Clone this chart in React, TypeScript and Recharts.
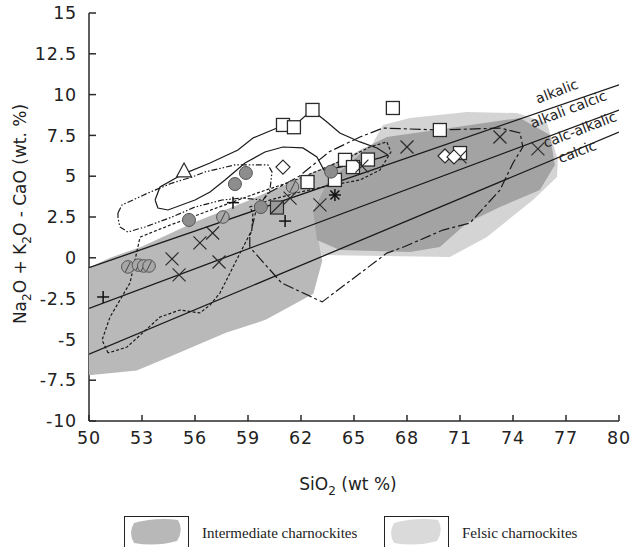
import React from 'react';
import { ScatterChart, Scatter, XAxis, YAxis } from 'recharts';

const xTicks = [50, 53, 56, 59, 62, 65, 68, 71, 74, 77, 80];
const yTicks = [-10, -7.5, -5, -2.5, 0, 2.5, 5, 7.5, 10, 12.5, 15];

// Frost et al. boundaries
const alkalicBoundary = [{ x: 50, y: -0.6 }, { x: 80, y: 10.6 }];
const alkaliCalcicBoundary = [{ x: 50, y: -3.1 }, { x: 80, y: 9.05 }];
const calcAlkalicBoundary = [{ x: 50, y: -5.9 }, { x: 80, y: 7.7 }];

const fieldLabels = [
  { x: 76.5, y: 10.15, name: 'alkalic' },
  { x: 77.15, y: 9.05, name: 'alkali calcic' },
  { x: 77.8, y: 7.8, name: 'calc-alkalic' },
  { x: 77.65, y: 6.45, name: 'calcic' },
];

// shaded fields
const felsicField = [
  { x: 63.07, y: 0.17 }, { x: 70.43, y: 0.05 }, { x: 72.52, y: 1.27 }, { x: 75.13, y: 3.54 },
  { x: 76.49, y: 4.95 }, { x: 76.54, y: 5.99 }, { x: 75.92, y: 8.26 }, { x: 74.22, y: 8.87 },
  { x: 71.39, y: 8.93 }, { x: 68.17, y: 8.57 }, { x: 66.64, y: 8.14 }, { x: 66.0, y: 6.9 },
  { x: 63.07, y: 3.54 }, { x: 62.9, y: 1.09 },
];
const intermediateBand = [
  { x: 50, y: -7.2 }, { x: 52.7, y: -6.9 }, { x: 54.5, y: -6.1 }, { x: 57.75, y: -4.6 },
  { x: 60.0, y: -3.8 }, { x: 62.7, y: -2.2 }, { x: 63.2, y: -0.2 }, { x: 63.0, y: 1.0 },
  { x: 62.7, y: 3.0 }, { x: 63.5, y: 4.6 }, { x: 65.7, y: 6.8 }, { x: 64.5, y: 6.1 },
  { x: 62, y: 4.9 }, { x: 59, y: 3.5 }, { x: 56, y: 2.2 }, { x: 53, y: 0.7 },
  { x: 51.2, y: 0.0 }, { x: 50, y: -0.6 },
];
const intermediateCore = [
  { x: 66.86, y: 7.4 }, { x: 70.43, y: 7.95 }, { x: 74.39, y: 8.57 }, { x: 76.09, y: 7.52 },
  { x: 76.37, y: 5.69 }, { x: 75.52, y: 4.15 }, { x: 73.26, y: 3.11 }, { x: 71.39, y: 2.13 },
  { x: 69.86, y: 0.66 }, { x: 68.17, y: 0.36 }, { x: 64.2, y: 0.48 }, { x: 62.9, y: 1.09 },
  { x: 62.68, y: 2.93 }, { x: 63.47, y: 4.58 }, { x: 65.73, y: 6.79 },
];

// outlined fields
const solidField = [
  { x: 53.74, y: 3.54 }, { x: 54.02, y: 4.34 }, { x: 55.32, y: 5.13 }, { x: 56.85, y: 5.81 },
  { x: 58.43, y: 6.61 }, { x: 59.28, y: 7.34 }, { x: 60.64, y: 7.95 }, { x: 61.6, y: 8.08 },
  { x: 62.62, y: 9.06 }, { x: 63.47, y: 8.32 }, { x: 64.2, y: 7.65 }, { x: 65.34, y: 7.1 },
  { x: 66.3, y: 6.73 }, { x: 66.92, y: 6.3 }, { x: 66.47, y: 6.12 }, { x: 65.34, y: 5.81 },
  { x: 64.2, y: 5.56 }, { x: 63.3, y: 5.38 }, { x: 62.9, y: 6.18 }, { x: 62.11, y: 6.73 },
  { x: 60.98, y: 6.79 }, { x: 59.96, y: 6.48 }, { x: 58.83, y: 5.81 }, { x: 57.7, y: 4.77 },
  { x: 56.85, y: 4.03 }, { x: 56.0, y: 3.54 }, { x: 54.47, y: 2.93 }, { x: 53.9, y: 3.05 },
  { x: 53.74, y: 3.54 },
];
const dashDotField = [
  { x: 51.64, y: 2.75 }, { x: 51.87, y: 3.24 }, { x: 52.6, y: 3.6 }, { x: 53.34, y: 3.97 },
  { x: 54.7, y: 4.58 }, { x: 55.83, y: 4.95 }, { x: 56.56, y: 5.26 }, { x: 58.26, y: 5.69 },
  { x: 60.13, y: 5.69 }, { x: 60.36, y: 5.26 }, { x: 60.24, y: 4.15 }, { x: 59.85, y: 3.54 },
  { x: 58.66, y: 3.66 }, { x: 57.53, y: 3.54 }, { x: 56.0, y: 3.11 }, { x: 54.7, y: 2.5 },
  { x: 53.17, y: 1.89 }, { x: 52.2, y: 1.58 }, { x: 51.75, y: 1.89 }, { x: 51.64, y: 2.44 },
  { x: 51.64, y: 2.75 },
];
const dottedField = [
  { x: 51.08, y: -5.83 }, { x: 50.74, y: -5.04 }, { x: 51.19, y: -3.63 }, { x: 52.32, y: -1.54 },
  { x: 52.89, y: 1.27 }, { x: 54.58, y: 2.0 }, { x: 56.28, y: 2.68 }, { x: 57.98, y: 3.36 },
  { x: 59.68, y: 4.03 }, { x: 61.38, y: 4.64 }, { x: 63.07, y: 5.38 }, { x: 64.77, y: 6.18 },
  { x: 65.9, y: 6.79 }, { x: 66.86, y: 7.1 }, { x: 67.09, y: 6.48 }, { x: 66.47, y: 5.38 },
  { x: 65.34, y: 4.77 }, { x: 63.81, y: 4.46 }, { x: 61.94, y: 4.03 }, { x: 60.24, y: 3.54 },
  { x: 59.1, y: 3.11 }, { x: 59.28, y: 2.75 }, { x: 59.22, y: 1.7 }, { x: 58.55, y: 0.29 },
  { x: 57.41, y: -2.16 }, { x: 56.85, y: -2.89 }, { x: 56.28, y: -3.38 }, { x: 55.15, y: -3.2 },
  { x: 54.02, y: -3.63 }, { x: 52.15, y: -5.47 }, { x: 51.08, y: -5.83 },
];
const longDashField = [
  { x: 59.1, y: 1.27 }, { x: 59.1, y: 0.66 }, { x: 60.9, y: -1.54 }, { x: 63.2, y: -2.7 },
  { x: 66.86, y: 0.29 }, { x: 67.8, y: 0.66 }, { x: 70.03, y: 1.7 }, { x: 71.56, y: 2.13 },
  { x: 73.26, y: 4.15 }, { x: 74.0, y: 5.81 }, { x: 74.56, y: 6.79 }, { x: 74.4, y: 7.65 },
  { x: 73.26, y: 7.95 }, { x: 69.86, y: 7.83 }, { x: 66.64, y: 7.95 }, { x: 65.34, y: 7.4 },
  { x: 63.6, y: 6.5 }, { x: 61.9, y: 5.0 }, { x: 60.2, y: 4.0 }, { x: 59.5, y: 3.1 },
  { x: 59.1, y: 1.27 },
];

// samples
const squares = [
  { x: 60.98, y: 8.14 }, { x: 61.6, y: 8.0 }, { x: 62.65, y: 9.06 }, { x: 67.2, y: 9.18 },
  { x: 69.86, y: 7.83 }, { x: 71.0, y: 6.42 }, { x: 64.49, y: 6.0 }, { x: 65.79, y: 6.02 },
  { x: 64.94, y: 5.56 }, { x: 62.37, y: 4.64 }, { x: 63.92, y: 4.77 },
];
const greyCircles = [
  { x: 58.88, y: 5.2 }, { x: 58.26, y: 4.52 }, { x: 59.73, y: 3.11 }, { x: 55.66, y: 2.32 },
  { x: 63.7, y: 5.28 },
];
const slashedCircles = [
  { x: 52.2, y: -0.56 }, { x: 52.8, y: -0.45 }, { x: 53.1, y: -0.5 }, { x: 53.4, y: -0.5 },
  { x: 57.58, y: 2.5 }, { x: 61.52, y: 4.34 },
];
const crosses = [
  { x: 54.7, y: -0.07 }, { x: 55.1, y: -1.05 }, { x: 56.28, y: 0.91 }, { x: 57.0, y: 1.52 },
  { x: 57.36, y: -0.26 }, { x: 63.07, y: 3.24 }, { x: 61.38, y: 3.66 }, { x: 65.45, y: 5.62 },
  { x: 68.0, y: 6.79 }, { x: 73.26, y: 7.4 }, { x: 75.41, y: 6.67 }, { x: 71.0, y: 6.18 },
];
const pluses = [{ x: 50.8, y: -2.4 }, { x: 58.15, y: 3.38 }, { x: 61.1, y: 2.25 }];
const diamonds = [{ x: 60.98, y: 5.56 }, { x: 70.15, y: 6.24 }, { x: 70.66, y: 6.18 }];
const triangles = [{ x: 55.38, y: 5.26 }];
const asterisks = [{ x: 63.92, y: 3.85 }];
const slashedSquares = [{ x: 60.64, y: 3.08 }];

const INK = '#2a2a2a';
const axisStyle = { stroke: '#2a2a2a', strokeWidth: 1.5 };
const tickFont = { fontFamily: 'DejaVu Sans', fontSize: 17.5, fill: '#222', letterSpacing: 0.8 };

const Empty = () => <g />;

const OpenSquare = ({ cx, cy }: any) => (
  <rect x={cx - 6.5} y={cy - 6.5} width={13} height={13} fill="#fff" stroke={INK} strokeWidth={1.3} />
);
const GreyCircle = ({ cx, cy }: any) => (
  <circle cx={cx} cy={cy} r={6.5} fill="#8d8d8d" stroke="#555" strokeWidth={1} />
);
const SlashedCircle = ({ cx, cy }: any) => (
  <g>
    <circle cx={cx} cy={cy} r={6.3} fill="#a8a8a8" stroke="#555" strokeWidth={1} />
    <line x1={cx - 2.5} y1={cy + 5} x2={cx + 2.5} y2={cy - 5} stroke="#444" strokeWidth={1} />
  </g>
);
const Cross = ({ cx, cy }: any) => (
  <g stroke={INK} strokeWidth={1.2}>
    <line x1={cx - 6.5} y1={cy - 6.5} x2={cx + 6.5} y2={cy + 6.5} />
    <line x1={cx - 6.5} y1={cy + 6.5} x2={cx + 6.5} y2={cy - 6.5} />
  </g>
);
const Plus = ({ cx, cy }: any) => (
  <g stroke="#111" strokeWidth={1.5}>
    <line x1={cx - 6} y1={cy} x2={cx + 6} y2={cy} />
    <line x1={cx} y1={cy - 6} x2={cx} y2={cy + 6} />
  </g>
);
const Diamond = ({ cx, cy }: any) => (
  <polygon points={`${cx},${cy - 7} ${cx + 7},${cy} ${cx},${cy + 7} ${cx - 7},${cy}`} fill="#fff" stroke={INK} strokeWidth={1.2} />
);
const Triangle = ({ cx, cy }: any) => (
  <polygon points={`${cx},${cy - 9} ${cx + 7.5},${cy + 5} ${cx - 7.5},${cy + 5}`} fill="#fff" stroke={INK} strokeWidth={1.2} />
);
const Asterisk = ({ cx, cy }: any) => (
  <g stroke="#111" strokeWidth={1.5}>
    <line x1={cx - 6} y1={cy} x2={cx + 6} y2={cy} />
    <line x1={cx} y1={cy - 6} x2={cx} y2={cy + 6} />
    <line x1={cx - 4.5} y1={cy - 4.5} x2={cx + 4.5} y2={cy + 4.5} />
    <line x1={cx - 4.5} y1={cy + 4.5} x2={cx + 4.5} y2={cy - 4.5} />
  </g>
);
const SlashedSquare = ({ cx, cy }: any) => (
  <g>
    <rect x={cx - 6.5} y={cy - 6.5} width={13} height={13} fill="#9a9a9a" stroke={INK} strokeWidth={1.2} />
    <line x1={cx - 6.5} y1={cy + 6.5} x2={cx + 6.5} y2={cy - 6.5} stroke={INK} strokeWidth={1.2} />
  </g>
);
const FieldLabel = ({ cx, cy, payload }: any) => (
  <text x={cx} y={cy} transform={`rotate(-21 ${cx} ${cy})`} textAnchor="middle" dominantBaseline="middle"
    fontFamily="DejaVu Sans" fontSize={14} fill="#222">{payload.name}</text>
);

const XTitle = () => (
  <text x={348} y={490} textAnchor="middle" fontFamily="DejaVu Sans" fontSize={17} fill="#222">
    SiO<tspan dy={5} fontSize={12}>2</tspan><tspan dy={-5}> (wt %)</tspan>
  </text>
);
const YTitle = () => (
  <text transform="translate(26,214) rotate(-90)" textAnchor="middle" fontFamily="DejaVu Sans" fontSize={17} fill="#222">
    Na<tspan dy={5} fontSize={12}>2</tspan><tspan dy={-5}>O + K</tspan><tspan dy={5} fontSize={12}>2</tspan>
    <tspan dy={-5}>O - CaO (wt. %)</tspan>
  </text>
);

const fill = (data: any[], color: string) => (
  <Scatter data={data} shape={Empty} line={{ fill: color, stroke: 'none' }} lineJointType="linearClosed"
    legendType="none" isAnimationActive={false} />
);
const outline = (data: any[], dash?: string, width = 1.2) => (
  <Scatter data={data} shape={Empty} line={{ stroke: '#1a1a1a', strokeWidth: width, strokeDasharray: dash, fill: 'none' }}
    legendType="none" isAnimationActive={false} />
);
const marks = (data: any[], shape: any) => (
  <Scatter data={data} shape={shape} legendType="none" isAnimationActive={false} />
);

function LegendStrip() {
  return (
    <svg width={633} height={547} style={{ position: 'absolute', left: 0, top: 0, pointerEvents: 'none' }}>
      <rect x={124.5} y={516.5} width={64} height={40} fill="#fff" stroke="#222" strokeWidth={1} />
      <path d="M134,523 Q156,517 178,520 Q184,530 177,541 Q156,547 134,543 Q128,533 134,523 Z" fill="#b8b8b8" />
      <text x={202} y={538} fontFamily="Liberation Serif" fontSize={15} fill="#222">Intermediate charnockites</text>
      <rect x={384.5} y={516.5} width={64} height={40} fill="#fff" stroke="#222" strokeWidth={1} />
      <path d="M394,523 Q416,517 438,520 Q444,530 437,541 Q416,547 394,543 Q388,533 394,523 Z" fill="#dadada" />
      <text x={462} y={538} fontFamily="Liberation Serif" fontSize={15} fill="#222">Felsic charnockites</text>
    </svg>
  );
}

export default function App() {
  return (
    <div style={{ position: 'absolute', left: 0, top: 0, width: 633, height: 547, background: '#fff' }}>
      <ScatterChart width={633} height={547} margin={{ top: 13, right: 14, bottom: 0, left: 0 }}>
        <XAxis type="number" dataKey="x" domain={[50, 80]} ticks={xTicks} interval={0} allowDataOverflow
          height={126} tickSize={-6} tickMargin={17} tick={tickFont} axisLine={axisStyle} tickLine={axisStyle}
          label={<XTitle />} />
        <XAxis xAxisId="top" orientation="top" type="number" domain={[50, 80]} ticks={xTicks} interval={0}
          height={0} tickSize={-6} tick={false} axisLine={axisStyle} tickLine={axisStyle} />
        <YAxis type="number" dataKey="y" domain={[-10, 15]} ticks={yTicks} interval={0} allowDataOverflow
          width={89} tickSize={-7} tickMargin={19} tick={tickFont} axisLine={axisStyle} tickLine={axisStyle}
          label={<YTitle />} />
        <YAxis yAxisId="right" orientation="right" type="number" domain={[-10, 15]} ticks={yTicks} interval={0}
          width={0} tickSize={-7} tick={false} axisLine={axisStyle} tickLine={axisStyle} />

        {fill(felsicField, '#d4d4d4')}
        {fill(intermediateBand, '#b9b9b9')}
        {fill(intermediateCore, '#a3a3a3')}

        {outline(alkalicBoundary, undefined, 1.3)}
        {outline(alkaliCalcicBoundary, undefined, 1.3)}
        {outline(calcAlkalicBoundary, undefined, 1.3)}

        {outline(solidField)}
        {outline(dashDotField, '6 2 1.5 2 1.5 2')}
        {outline(dottedField, '3 2')}
        {outline(longDashField, '11 3 3 3')}

        {marks(squares, OpenSquare)}
        {marks(slashedCircles, SlashedCircle)}
        {marks(greyCircles, GreyCircle)}
        {marks(crosses, Cross)}
        {marks(pluses, Plus)}
        {marks(diamonds, Diamond)}
        {marks(triangles, Triangle)}
        {marks(asterisks, Asterisk)}
        {marks(slashedSquares, SlashedSquare)}
        {marks(fieldLabels, FieldLabel)}
      </ScatterChart>
      <LegendStrip />
    </div>
  );
}
